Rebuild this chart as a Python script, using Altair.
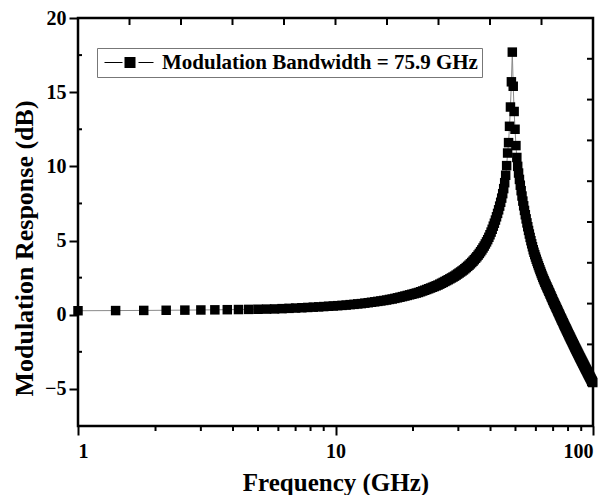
import altair as alt
import pandas as pd

# Frequency grid (GHz)
freq = [
    1.0, 1.4, 1.8, 2.2, 2.6, 3.0, 3.4, 3.8, 4.2, 4.6,
    5.0, 5.4, 5.8, 6.2, 6.6, 7.0, 7.4, 7.8, 8.2, 8.6,
    9.0, 9.4, 9.8, 10.2, 10.6, 11.0, 11.4, 11.8, 12.2, 12.6,
    13.0, 13.4, 13.8, 14.2, 14.6, 15.0, 15.4, 15.8, 16.2, 16.6,
    17.0, 17.4, 17.8, 18.2, 18.6, 19.0, 19.4, 19.8, 20.2, 20.6,
    21.0, 21.4, 21.8, 22.2, 22.6, 23.0, 23.4, 23.8, 24.2, 24.6,
    25.0, 25.4, 25.8, 26.2, 26.6, 27.0, 27.4, 27.8, 28.2, 28.6,
    29.0, 29.4, 29.8, 30.2, 30.6, 31.0, 31.4, 31.8, 32.2, 32.6,
    33.0, 33.4, 33.8, 34.2, 34.6, 35.0, 35.4, 35.8, 36.2, 36.6,
    37.0, 37.4, 37.8, 38.2, 38.6, 39.0, 39.4, 39.8, 40.2, 40.6,
    41.0, 41.4, 41.8, 42.2, 42.6, 43.0, 43.4, 43.8, 44.2, 44.6,
    45.0, 45.4, 45.8, 46.2, 46.6, 47.0, 47.4, 47.8, 48.2, 48.6,
    49.0, 49.4, 49.8, 50.2, 50.6, 51.0, 51.4, 51.8, 52.2, 52.6,
    53.0, 53.4, 53.8, 54.2, 54.6, 55.0, 55.4, 55.8, 56.2, 56.6,
    57.0, 57.4, 57.8, 58.2, 58.6, 59.0, 59.4, 59.8, 60.2, 60.6,
    61.0, 61.4, 61.8, 62.2, 62.6, 63.0, 63.4, 63.8, 64.2, 64.6,
    65.0, 65.4, 65.8, 66.2, 66.6, 67.0, 67.4, 67.8, 68.2, 68.6,
    69.0, 69.4, 69.8, 70.2, 70.6, 71.0, 71.4, 71.8, 72.2, 72.6,
    73.0, 73.4, 73.8, 74.2, 74.6, 75.0, 75.4, 75.8, 76.2, 76.6,
    77.0, 77.4, 77.8, 78.2, 78.6, 79.0, 79.4, 79.8, 80.2, 80.6,
    81.0, 81.4, 81.8, 82.2, 82.6, 83.0, 83.4, 83.8, 84.2, 84.6,
    85.0, 85.4, 85.8, 86.2, 86.6, 87.0, 87.4, 87.8, 88.2, 88.6,
    89.0, 89.4, 89.8, 90.2, 90.6, 91.0, 91.4, 91.8, 92.2, 92.6,
    93.0, 93.4, 93.8, 94.2, 94.6, 95.0, 95.4, 95.8, 96.2, 96.6,
    97.0, 97.4, 97.8, 98.2, 98.6, 99.0, 99.4, 99.8,
]

# Modulation response (dB)
response = [
    0.27, 0.28, 0.29, 0.30, 0.31, 0.32, 0.33, 0.34, 0.35, 0.36,
    0.37, 0.38, 0.39, 0.41, 0.43, 0.45, 0.47, 0.49, 0.51, 0.53,
    0.55, 0.57, 0.59, 0.61, 0.63, 0.65, 0.68, 0.70, 0.73, 0.75,
    0.78, 0.81, 0.84, 0.87, 0.90, 0.93, 0.96, 0.99, 1.03, 1.06,
    1.10, 1.14, 1.18, 1.22, 1.26, 1.30, 1.34, 1.38, 1.42, 1.46,
    1.50, 1.55, 1.60, 1.65, 1.70, 1.75, 1.80, 1.85, 1.90, 1.95,
    2.00, 2.06, 2.12, 2.18, 2.24, 2.30, 2.36, 2.42, 2.48, 2.54,
    2.60, 2.67, 2.74, 2.81, 2.88, 2.95, 3.02, 3.10, 3.18, 3.26,
    3.34, 3.43, 3.52, 3.61, 3.71, 3.81, 3.91, 4.02, 4.13, 4.25,
    4.37, 4.50, 4.63, 4.77, 4.91, 5.06, 5.22, 5.39, 5.57, 5.76,
    5.97, 6.17, 6.38, 6.60, 6.83, 7.07, 7.32, 7.58, 7.86, 8.16,
    8.50, 8.90, 9.40, 10.05, 10.90, 11.60, 12.70, 14.00, 15.70, 17.70,
    15.40, 13.70, 12.50, 11.40, 10.60, 10.00, 9.55, 9.12, 8.73, 8.36,
    8.00, 7.66, 7.34, 7.03, 6.74, 6.46, 6.19, 5.93, 5.68, 5.44,
    5.21, 4.99, 4.78, 4.58, 4.38, 4.21, 4.05, 3.89, 3.74, 3.59,
    3.45, 3.31, 3.17, 3.04, 2.91, 2.78, 2.65, 2.53, 2.41, 2.30,
    2.19, 2.08, 1.98, 1.88, 1.78, 1.68, 1.58, 1.48, 1.38, 1.28,
    1.18, 1.08, 0.98, 0.88, 0.79, 0.70, 0.61, 0.52, 0.43, 0.34,
    0.25, 0.16, 0.07, -0.02, -0.11, -0.20, -0.28, -0.37, -0.45, -0.54,
    -0.62, -0.71, -0.79, -0.87, -0.95, -1.03, -1.11, -1.19, -1.27, -1.35,
    -1.43, -1.50, -1.58, -1.66, -1.73, -1.81, -1.88, -1.96, -2.03, -2.10,
    -2.18, -2.25, -2.32, -2.39, -2.46, -2.53, -2.60, -2.67, -2.74, -2.81,
    -2.88, -2.94, -3.01, -3.08, -3.14, -3.21, -3.27, -3.34, -3.40, -3.47,
    -3.53, -3.60, -3.66, -3.72, -3.78, -3.85, -3.91, -3.97, -4.03, -4.09,
    -4.15, -4.21, -4.27, -4.33, -4.39, -4.45, -4.51, -4.57,
]

series_name = "Modulation Bandwidth = 75.9 GHz"

x_major = [1, 10, 100]
x_minor = [2, 3, 4, 5, 6, 7, 8, 9, 20, 30, 40, 50, 60, 70, 80, 90]
y_major = [-5, 0, 5, 10, 15, 20]
y_minor = [-2.5, 2.5, 7.5, 12.5, 17.5]
top_ticks = [1.585, 2.512, 3.981, 6.310, 10.0, 15.85, 25.12, 39.81, 63.10]
right_ticks = [-4.75, -2.0, 0.75, 3.5, 6.25, 9.0, 11.75, 14.5, 17.25]

W, H = 515, 408
FONT = "Liberation Serif"

df = pd.DataFrame({"f": freq, "r": response, "s": series_name})

xs = alt.Scale(type="log", domain=[1, 100], nice=False)
ys = alt.Scale(domain=[-7.5, 20], nice=False, zero=False)

x_axis = alt.Axis(
    orient="bottom", values=x_major, title="Frequency (GHz)",
    format="d", tickSize=9, labelOverlap=False,
    labelPadding=6, titlePadding=9, titleFontSize=25,
)
y_axis = alt.Axis(
    orient="left", values=y_major, title="Modulation Response (dB)",
    tickSize=9, labelPadding=3, titlePadding=7, labelOverlap=False,
    titleFontSize=26, titleY=230,
)

base = alt.Chart(df)

line = base.mark_line(color="#8a8a8a", strokeWidth=1).encode(
    x=alt.X("f:Q", scale=xs, axis=x_axis),
    y=alt.Y("r:Q", scale=ys, axis=y_axis),
)

legend_symbol = (
    "M-0.7,-0.06H1.1V0.06H-0.7Z"
    "M1.3,-0.55H2.4V0.55H1.3Z"
    "M2.7,-0.06H4.2V0.06H2.7Z"
)

pts = base.mark_point(shape="square", filled=True, size=90, opacity=1).encode(
    x=alt.X("f:Q", scale=xs, axis=x_axis),
    y=alt.Y("r:Q", scale=ys, axis=y_axis),
    color=alt.Color("s:N", scale=alt.Scale(range=["black"]), legend=alt.Legend(
        title=None, orient="none", legendX=19, legendY=30,
        symbolType=legend_symbol, symbolSize=400, symbolStrokeWidth=0,
        labelFont=FONT, labelFontSize=21, labelFontWeight="bold",
        labelColor="black", labelLimit=0, labelOffset=40,
        strokeColor="#777777", fillColor="white", padding=4,
    )),
)

tick_style = dict(color="black", strokeWidth=2)

bottom_minor = alt.Chart(pd.DataFrame({"v": x_minor})).mark_rule(**tick_style).encode(
    x=alt.X("v:Q", scale=xs, axis=x_axis), y=alt.value(H), y2=alt.value(H + 5))

top_minor = alt.Chart(pd.DataFrame({"v": top_ticks})).mark_rule(**tick_style).encode(
    x=alt.X("v:Q", scale=xs, axis=x_axis), y=alt.value(0), y2=alt.value(7))

right_minor = alt.Chart(pd.DataFrame({"v": right_ticks})).mark_rule(**tick_style).encode(
    y=alt.Y("v:Q", scale=ys, axis=y_axis), x=alt.value(W - 6), x2=alt.value(W))

left_minor = alt.Chart(pd.DataFrame({"v": y_minor})).mark_rule(**tick_style).encode(
    y=alt.Y("v:Q", scale=ys, axis=y_axis), x=alt.value(0), x2=alt.value(4))

chart = (
    alt.layer(line, pts, bottom_minor, top_minor, right_minor, left_minor)
    .properties(
        width=W, height=H,
        padding={"left": 78, "top": 18, "right": 21, "bottom": 69},
        autosize=alt.AutoSizeParams(type="none"),
        background="white",
    )
    .configure_view(stroke="black", strokeWidth=2.5)
    .configure_axis(
        domain=False, grid=False,
        tickColor="black", tickWidth=2,
        labelFont=FONT, labelFontSize=20, labelFontWeight="bold", labelColor="black",
        titleFont=FONT, titleFontSize=24, titleFontWeight="bold", titleColor="black",
    )
)

chart.save("out.html", embed_options={"renderer": "svg", "actions": False})
